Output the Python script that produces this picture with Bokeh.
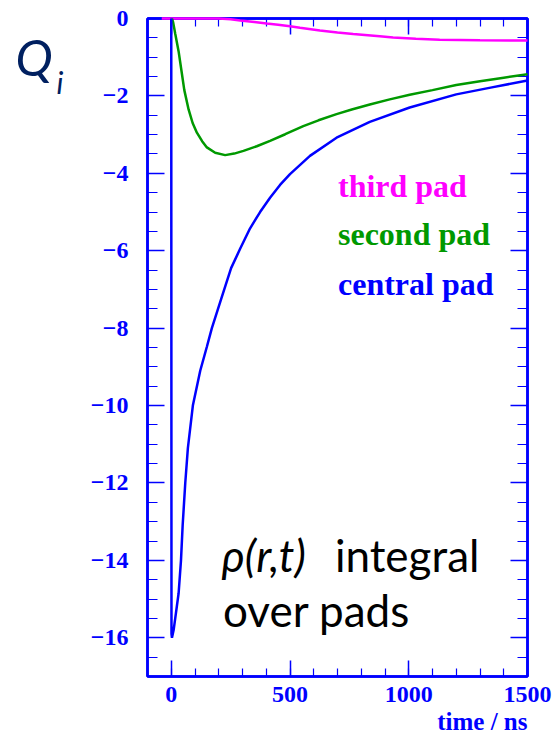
from bokeh.plotting import figure
from bokeh.layouts import row
from bokeh.models import (Range1d, LinearAxis, FixedTicker, CustomJSTickFormatter,
                          Label, Title)
from bokeh.embed import file_html
from bokeh.resources import INLINE

# Induced charge on the pads versus drift time
central_t = [0, 1, 3, 10, 20, 31, 41, 48, 59, 70, 91, 122, 150, 171, 210, 252,
             290, 332, 374, 416, 458, 500, 584, 696, 836, 1004, 1200, 1350, 1500]
central_q = [0, -15.9, -16.0, -15.8, -15.35, -14.85, -14.0, -13.1, -12.0, -11.1,
             -10.0, -9.1, -8.48, -8.0, -7.25, -6.45, -5.95, -5.42, -5.0, -4.63,
             -4.3, -4.02, -3.55, -3.08, -2.67, -2.3, -1.96, -1.78, -1.6]

second_t = [3, 8, 17, 31, 43, 55, 73, 90, 108, 130, 150, 185, 227, 265, 304, 360,
            416, 480, 556, 620, 696, 760, 836, 920, 1004, 1100, 1200, 1300, 1400, 1500]
second_q = [0, -0.1, -0.4, -0.85, -1.35, -1.85, -2.35, -2.7, -2.95, -3.17, -3.33,
            -3.47, -3.53, -3.49, -3.42, -3.3, -3.16, -2.99, -2.78, -2.63, -2.47,
            -2.35, -2.22, -2.09, -1.97, -1.85, -1.72, -1.62, -1.53, -1.44]

third_t = [-40, 200, 250, 290, 350, 402, 450, 500, 542, 626, 700, 766, 878, 934,
           1030, 1130, 1300, 1500]
third_q = [0, 0, -0.02, -0.05, -0.09, -0.13, -0.16, -0.2, -0.24, -0.31, -0.36,
           -0.4, -0.46, -0.49, -0.52, -0.55, -0.56, -0.57]

x_major = [0, 500, 1000, 1500]
x_minor = list(range(-100, 1501, 100))
y_major = [0, -2, -4, -6, -8, -10, -12, -14, -16]
y_minor = [-0.5 * k for k in range(0, 35)]

BLUE = "#0000ff"
GREEN = "#009900"
MAGENTA = "#ff00ff"
NAVY = "#002060"
SERIF = "Liberation Serif"

# narrow strip on the left that carries the y title
qfig = figure(width=75, height=737, output_backend="svg", toolbar_location=None,
              x_range=Range1d(0, 75), y_range=Range1d(0, 737),
              x_axis_location=None, y_axis_location=None, min_border=0)
qfig.xgrid.visible = False
qfig.ygrid.visible = False
qfig.outline_line_color = None
qfig.add_layout(Label(x=15, y=694, text="Q", text_font="Lato",
                      text_font_style="italic", text_font_size="50px",
                      text_color=NAVY, text_baseline="alphabetic"))
qfig.add_layout(Label(x=56, y=666, text="i", text_font="Lato",
                      text_font_style="italic", text_font_size="30px",
                      text_color=NAVY, text_baseline="alphabetic"))

p = figure(width=479, height=737, output_backend="svg", toolbar_location=None,
           x_range=Range1d(-100, 1500), y_range=Range1d(-17, 0),
           x_axis_location=None, y_axis_location=None,
           min_border_left=72, min_border_right=27,
           min_border_top=18, min_border_bottom=61)
p.xgrid.visible = False
p.ygrid.visible = False
p.outline_line_color = BLUE
p.outline_line_width = 2.5

label_fmt = CustomJSTickFormatter(code="return tick < 0 ? '\u2212' + (-tick) : '' + tick;")
blank_fmt = CustomJSTickFormatter(code="return '';")


def style_axis(ax, major_len, minor_len):
    ax.axis_line_color = BLUE
    ax.axis_line_width = 2.5
    ax.major_tick_line_color = BLUE
    ax.minor_tick_line_color = BLUE
    ax.major_tick_line_width = 1.5
    ax.minor_tick_line_width = 1.2
    ax.major_tick_in = major_len
    ax.major_tick_out = 0
    ax.minor_tick_in = minor_len
    ax.minor_tick_out = 0
    ax.major_label_text_color = BLUE
    ax.major_label_text_font = SERIF
    ax.major_label_text_font_style = "bold"
    ax.major_label_text_font_size = "24px"


for loc in ("below", "above"):
    ax = LinearAxis(ticker=FixedTicker(ticks=x_major, minor_ticks=x_minor),
                    formatter=label_fmt if loc == "below" else blank_fmt)
    style_axis(ax, 16, 8)
    ax.major_label_standoff = 10
    p.add_layout(ax, loc)

for loc in ("left", "right"):
    ax = LinearAxis(ticker=FixedTicker(ticks=y_major, minor_ticks=y_minor),
                    formatter=label_fmt if loc == "left" else blank_fmt)
    style_axis(ax, 17, 10)
    ax.major_label_standoff = 19
    p.add_layout(ax, loc)

p.add_layout(Title(text="time / ns", align="right", text_font=SERIF,
                   text_font_style="bold", text_font_size="25px",
                   text_color=BLUE, standoff=2), "below")

for t, q, c in ((third_t, third_q, MAGENTA),
                (second_t, second_q, GREEN),
                (central_t, central_q, BLUE)):
    r = p.line(t, q, line_color=c, line_width=2.5)
    r.level = "overlay"

# series names
for txt, yv, c in (("third pad", -4.33, MAGENTA),
                   ("second pad", -5.57, GREEN),
                   ("central pad", -6.86, BLUE)):
    p.add_layout(Label(x=702, y=yv, text=txt, text_color=c, text_font=SERIF,
                       text_font_style="bold", text_font_size="32px",
                       text_baseline="alphabetic"))

# annotation inside the frame
p.add_layout(Label(x=213, y=-13.87, text="\u03c1(r,t)", text_font="Lato",
                   text_font_style="italic", text_font_size="44px",
                   text_color="black", text_baseline="alphabetic"))
p.add_layout(Label(x=689, y=-13.87, text="integral", text_font="Lato",
                   text_font_size="44px", text_color="black",
                   text_baseline="alphabetic"))
p.add_layout(Label(x=218, y=-15.29, text="over pads", text_font="Lato",
                   text_font_size="44px", text_color="black",
                   text_baseline="alphabetic"))

open("out.html", "w").write(file_html(row(qfig, p), INLINE))
